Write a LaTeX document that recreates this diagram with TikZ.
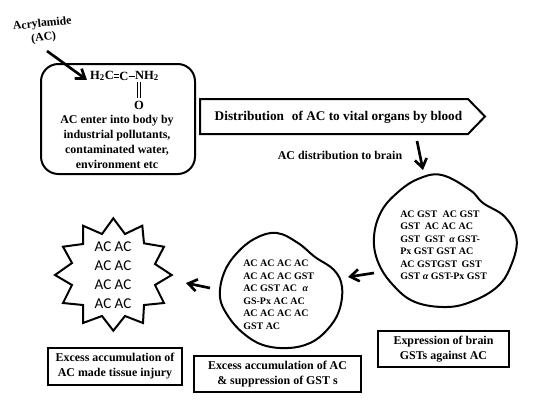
\documentclass[tikz,border=0pt]{standalone}
\usepackage{fontspec}
\setmainfont{Liberation Serif}
\newfontfamily\starfont{Carlito}
\usetikzlibrary{arrows.meta}
\tikzset{
  x=0.75pt,y=-0.75pt,
  lbl/.style={inner sep=0pt,align=center,font=\bfseries\fontsize{8.95}{11.25}\selectfont},
  hd/.style={lbl,font=\bfseries\fontsize{9.95}{11.25}\selectfont},
  blobtext/.style={inner sep=0pt,align=left,anchor=north west,font=\bfseries\fontsize{7.5}{9.35}\selectfont},
  outline/.style={draw=black,line width=1.5pt},
  flow/.style={draw=black,line width=2pt,-{Straight Barb[length=6.5pt,width=9pt,line width=2pt]}},
  chem/.style={inner sep=0pt,font=\bfseries\fontsize{9.4}{11}\selectfont},
  bond/.style={draw=black,line width=0.7pt},
}
\begin{document}
\begin{tikzpicture}
\useasboundingbox (0,0) rectangle (533,415);
\fill[white] (0,0) rectangle (533,415);

% rounded entry box
\node[outline,rounded corners=13pt,minimum width=115.5pt,minimum height=82.5pt,inner sep=0pt] (entry) at (118,119) {};
\node[lbl] (entrytext) at (117,142) {AC enter into body by\\[0pt]industrial pollutants,\\contaminated water,\\environment etc};

% structure
\node[chem] (ch2) at (102,76) {H\textsubscript{2}C};
\node[chem] (ch) at (124,76) {C};
\node[chem] (nh2) at (147,76) {NH\textsubscript{2}};
\node[chem] (oxy) at (139,105) {O};
\draw[bond] ([yshift=-1.2pt]ch2.east) -- ([yshift=-1.2pt]ch.west);
\draw[bond] ([yshift=0.8pt]ch2.east) -- ([yshift=0.8pt]ch.west);
\draw[bond] (ch.east) -- (ch.east -| nh2.west);
\coordinate (dbtop) at (139,82);
\coordinate (dbbot) at (139,98);
\draw[bond] ([xshift=-1.1pt]dbtop) -- ([xshift=-1.1pt]dbbot);
\draw[bond] ([xshift=1.1pt]dbtop) -- ([xshift=1.1pt]dbbot);

% acrylamide label
\node[lbl,rotate=6,font=\bfseries\fontsize{8.8}{10.5}\selectfont] (acr) at (43,31) {Acrylamide\\(AC)};
\coordinate (acrS) at (47,51);
\coordinate (acrE) at (87,80);
\draw[flow] (acrS) -- (acrE);

% distribution arrow box
\draw[outline] (200,99) coordinate (d1) -- (468,99) -- (485,116.5) coordinate (dtip) -- (468,134) -- (200,134) -- cycle;
\node[hd] (dist) at (338.5,117.5) {Distribution\hspace{0.35em} of AC to vital organs by blood};

\node[lbl] (tobrain) at (340,155) {AC distribution to brain};
\coordinate (brS) at (417,141);
\coordinate (brE) at (423,170);
\draw[flow] (brS) -- (brE);

% big blob
\draw[outline,line join=round] plot[smooth cycle,tension=0.65] coordinates {(441.7,175) (470,190) (483,203) (505,217) (516.7,240) (510,268) (497,287) (473,301) (447,307) (415,302) (393,285) (378,262) (374,237) (381,212) (397,193) (418,179)};
\node[blobtext] (bigtext) at (400,210.5) {AC GST\hspace{0.3em} AC GST\\GST\hspace{0.2em} AC AC AC\\GST\hspace{0.2em} GST\hspace{0.2em} \textit{α} GST-\\Px GST GST AC\\AC GSTGST\hspace{0.2em} GST\\GST \textit{α} GST-Px GST};

% small blob
\draw[outline,line join=round] plot[smooth cycle,tension=0.65] coordinates {(277,233) (298,243) (315,257) (334,270) (342,287) (339,311) (327,330) (310,343) (288,348) (263,345) (243,333) (228,316) (220,297) (224,273) (237,253) (256,238)};
\node[blobtext] (smalltext) at (243,260) {AC AC AC AC\\AC AC AC GST\\AC GST AC\hspace{0.3em} \textit{α}\\GS-Px AC AC\\AC AC AC AC\\GST AC};

\coordinate (b2S) at (374,273);
\coordinate (b2E) at (348,277);
\draw[flow] (b2S) -- (b2E);
\coordinate (s2S) at (210,288);
\coordinate (s2E) at (186,283);
\draw[flow] (s2S) -- (s2E);

% star
\draw[outline,line join=miter] (113.3,218.3) -- (125,234) -- (142.3,225.7) -- (144,243.3) -- (164,246.7) -- (155,264) -- (171.7,275) -- (155,285) -- (164,303) -- (144,305) -- (143,323) -- (125,316) -- (113.3,330.7) -- (102,316) -- (83,323) -- (83,305) -- (63,303) -- (72,285) -- (55,275) -- (72,263) -- (63,246.7) -- (83,244) -- (83,225.7) -- (102,234) -- cycle;
\node[inner sep=0pt,align=center,font=\starfont\fontsize{11.25}{14.25}\selectfont] (startext) at (113,275.5) {AC AC\\AC AC\\AC AC\\AC AC};

% caption boxes
\node[outline,minimum width=100.5pt,minimum height=27.5pt,inner sep=0pt,lbl] (cap1) at (115,366.5) {Excess accumulation of\\AC made tissue injury};
\node[outline,minimum width=125pt,minimum height=27pt,inner sep=0pt,lbl] (cap2) at (277.5,374) {Excess accumulation of AC\\\& suppression of GST s};
\node[outline,minimum width=98pt,minimum height=27pt,inner sep=0pt,lbl] (cap3) at (443.5,349) {Expression of brain\\GSTs against AC};
\end{tikzpicture}
\end{document}
